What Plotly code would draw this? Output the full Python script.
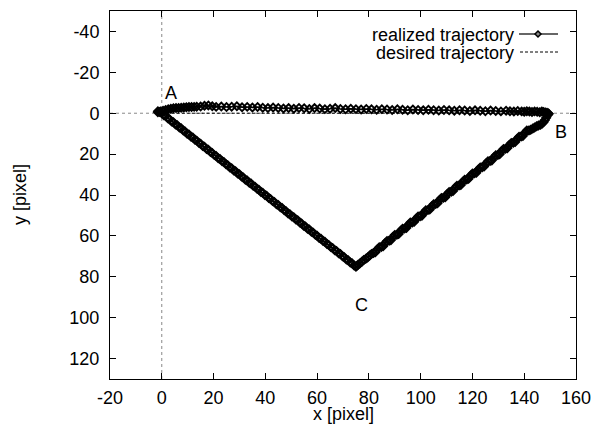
import plotly.graph_objects as go

# realized trajectory: A -> B
ab_x = [-1.5, -0.5, 0.5, 1.5, 2.5, 3.5, 4.5, 5.5, 6.5, 7.5, 8.5, 9.5, 10.5, 11.5, 12.5, 13.5, 15, 16.5, 18, 19.5,
        21, 23, 25, 27, 29, 31, 33, 35, 37, 39, 41, 43, 45, 47, 49, 51, 53, 55, 57, 59, 61, 63, 65, 67, 69, 71, 73,
        75, 77, 79, 81, 83, 85, 87, 89, 91, 93, 95, 97, 99, 101, 103, 105, 107, 109, 111, 113, 115, 117, 119, 121,
        123, 125, 127, 129, 131, 133, 134.5, 136, 137.5, 139, 140, 141, 142, 143, 144, 145, 146, 146.8, 147.5,
        148.2, 148.8, 149.2, 149.5]
ab_y = [-0.5, -0.8, -1.2, -1.6, -2.0, -2.2, -2.4, -2.5, -2.6, -2.7, -2.8, -2.9, -3.0, -3.0, -3.1, -3.2, -3.3, -3.6,
        -3.8, -3.4, -3.1, -3.3, -3.0, -3.2, -3.4, -2.9, -3.1, -2.8, -3.0, -2.7, -2.5, -2.8, -2.6, -2.3, -2.5, -2.2,
        -2.6, -2.4, -2.1, -2.5, -2.3, -2.0, -2.2, -2.5, -2.1, -1.9, -2.2, -2.0, -1.8, -2.1, -1.9, -1.7, -2.0, -1.8,
        -1.6, -1.9, -1.7, -1.5, -1.8, -1.6, -1.4, -1.7, -1.5, -1.3, -1.6, -1.4, -1.2, -1.5, -1.3, -1.1, -1.4, -1.2,
        -1.0, -1.3, -1.1, -0.9, -1.2, -1.0, -0.8, -1.1, -0.9, -0.7, -1.0, -0.8, -0.6, -0.9, -0.7, -0.5, -0.8, -0.6,
        -0.4, -0.2, 0.0, 0.3]

# realized trajectory: B -> C
bc_x = [149.0, 148.5, 148.0, 147.5, 147.0, 146.3, 145.5, 144.8, 144.0, 143.3,
        142.5, 141.8, 141.0, 140.3, 139.5, 138.8, 138.0, 137.3, 136.5, 135.8,
        135.0, 134.3, 133.5, 132.8, 132.0, 131.3, 130.5, 129.8, 129.0, 128.3,
        127.5, 126.8, 126.0, 125.3, 124.5, 123.8, 123.0, 122.3, 121.5, 120.8,
        120.0, 119.3, 118.5, 117.8, 117.0, 116.3, 115.5, 114.8, 114.0, 113.3,
        112.5, 111.8, 111.0, 110.3, 109.5, 108.8, 108.0, 107.3, 106.5, 105.8,
        105.0, 104.3, 103.5, 102.8, 102.0, 101.3, 100.5, 99.8, 99.0, 98.3,
        97.5, 96.8, 96.0, 95.3, 94.5, 93.8, 93.0, 92.3, 91.5, 90.8,
        90.0, 89.3, 88.5, 87.8, 87.0, 86.3, 85.5, 84.8, 84.0, 83.3,
        82.5, 81.8, 81.0, 80.3, 79.5, 78.8, 78.0, 77.3, 76.5, 75.8,
        75.3, 75.0]
bc_y = [1.0, 2.2, 3.3, 4.3, 5.0, 5.6, 6.0, 6.4, 7.0, 7.5,
        8.1, 8.4, 8.5, 9.5, 11.1, 11.4, 11.5, 12.5, 14.1, 14.4,
        14.5, 15.5, 17.1, 17.4, 17.5, 18.5, 20.1, 20.4, 20.5, 21.5,
        23.1, 23.4, 23.5, 24.5, 26.1, 26.4, 26.5, 27.5, 29.1, 29.4,
        29.5, 30.5, 32.1, 32.4, 32.5, 33.5, 35.1, 35.4, 35.5, 36.5,
        38.1, 38.4, 38.5, 39.5, 41.1, 41.4, 41.5, 42.5, 44.1, 44.4,
        44.5, 45.5, 47.1, 47.4, 47.5, 48.5, 50.1, 50.4, 50.5, 51.5,
        53.1, 53.4, 53.5, 54.5, 56.1, 56.4, 56.5, 57.5, 59.1, 59.4,
        59.5, 60.5, 62.1, 62.4, 62.5, 63.5, 65.1, 65.4, 65.5, 66.5,
        68.0, 68.4, 68.8, 69.6, 70.6, 71.2, 71.8, 72.6, 73.5, 74.1,
        74.7, 75.1]

# realized trajectory: C -> A
ca_x = [74.3, 73.5, 72.8, 72.0, 71.3, 70.5, 69.8, 69.0, 68.3, 67.5,
        66.8, 66.0, 65.3, 64.5, 63.8, 63.0, 62.3, 61.5, 60.8, 60.0,
        59.3, 58.5, 57.8, 57.0, 56.3, 55.5, 54.8, 54.0, 53.3, 52.5,
        51.8, 51.0, 50.3, 49.5, 48.8, 48.0, 47.3, 46.5, 45.8, 45.0,
        44.3, 43.5, 42.8, 42.0, 41.3, 40.5, 39.8, 39.0, 38.3, 37.5,
        36.8, 36.0, 35.3, 34.5, 33.8, 33.0, 32.3, 31.5, 30.8, 30.0,
        29.3, 28.5, 27.8, 27.0, 26.3, 25.5, 24.8, 24.0, 23.3, 22.5,
        21.8, 21.0, 20.3, 19.5, 18.8, 18.0, 17.3, 16.5, 15.8, 15.0,
        14.3, 13.5, 12.8, 12.0, 11.3, 10.5, 9.8, 9.0, 8.3, 7.5,
        6.8, 6.0, 5.3, 4.5, 3.8, 3.0, 2.3, 1.5, 0.8, 0.0,
        -0.8, -1.5]
ca_y = [74.5, 73.4, 73.0, 71.9, 71.5, 70.4, 70.0, 68.9, 68.5, 67.4,
        67.0, 65.9, 65.5, 64.4, 64.0, 62.9, 62.5, 61.4, 61.0, 59.9,
        59.5, 58.4, 58.0, 56.9, 56.5, 55.4, 55.0, 53.9, 53.5, 52.4,
        52.0, 50.9, 50.5, 49.4, 49.0, 47.9, 47.5, 46.4, 46.0, 44.9,
        44.5, 43.4, 43.0, 41.9, 41.5, 40.4, 40.0, 38.9, 38.5, 37.4,
        37.0, 35.9, 35.5, 34.4, 34.0, 32.9, 32.5, 31.4, 31.0, 29.9,
        29.5, 28.4, 28.0, 26.9, 26.5, 25.4, 25.0, 23.9, 23.5, 22.4,
        22.0, 20.9, 20.5, 19.4, 19.0, 17.9, 17.5, 16.4, 16.0, 14.9,
        14.5, 13.4, 13.0, 11.9, 11.5, 10.4, 10.0, 8.9, 8.5, 7.4,
        7.0, 5.9, 5.5, 4.4, 4.0, 2.9, 2.5, 1.4, 1.0, 0.0,
        -0.6, -1.0]

real_x = ab_x + bc_x + ca_x
real_y = ab_y + bc_y + ca_y

# desired trajectory (triangle A-B-C)
des_x = [0, 150, 75, 0]
des_y = [0, 0, 75, 0]

# point labels
lab_text = ["A", "B", "C"]
lab_x = [0.5, 151, 74]
lab_y = [-10, 9, 94]

x_ticks = [-20, 0, 20, 40, 60, 80, 100, 120, 140, 160]
y_ticks = [-40, -20, 0, 20, 40, 60, 80, 100, 120]

FONT = "Liberation Sans, Arial, Helvetica, sans-serif"
FS = 18

fig = go.Figure()

# zero axes (dotted)
fig.add_shape(type="line", xref="x", yref="paper", x0=0, x1=0, y0=0, y1=1,
              line=dict(color="#888888", width=1, dash="dot"), layer="below")
fig.add_shape(type="line", xref="paper", yref="y", x0=0, x1=1, y0=0, y1=0,
              line=dict(color="#888888", width=1, dash="dot"), layer="below")

fig.add_trace(go.Scatter(x=des_x, y=des_y, mode="lines", name="desired trajectory",
                         line=dict(color="black", width=1, dash="3px,2px"), showlegend=False))
fig.add_trace(go.Scatter(x=real_x, y=real_y, mode="lines+markers", name="realized trajectory",
                         line=dict(color="black", width=1.5),
                         marker=dict(symbol="diamond-open", size=6, color="black", line=dict(width=1.9)),
                         showlegend=False))

for t, x, y in zip(lab_text, lab_x, lab_y):
    fig.add_annotation(x=x, y=y, text=t, showarrow=False, xanchor="left", yanchor="middle",
                       font=dict(family=FONT, size=FS, color="black"))

# layout in pixels (plot area)
L, R, T, B = 110, 576, 11, 379
W, H = R - L, B - T
def px(x):
    return (x - L) / W
def py(y):
    return 1 - (y - T) / H

# legend (text right-aligned, sample on the right, gnuplot style)
fig.add_annotation(xref="paper", yref="paper", x=px(515), y=py(35), text="realized trajectory",
                   showarrow=False, xanchor="right", yanchor="middle", borderpad=0,
                   font=dict(family=FONT, size=FS, color="black"))
fig.add_annotation(xref="paper", yref="paper", x=px(515), y=py(53), text="desired trajectory",
                   showarrow=False, xanchor="right", yanchor="middle", borderpad=0,
                   font=dict(family=FONT, size=FS, color="black"))
fig.add_shape(type="line", xref="paper", yref="paper", x0=px(519), x1=px(558), y0=py(34), y1=py(34),
              line=dict(color="#333333", width=1.5))
cx, cy, d = 538, 34, 3
fig.add_shape(type="path", xref="paper", yref="paper",
              path=f"M {px(cx-d)},{py(cy)} L {px(cx)},{py(cy-d)} L {px(cx+d)},{py(cy)} L {px(cx)},{py(cy+d)} Z",
              line=dict(color="black", width=1.5), fillcolor="#888888")
fig.add_shape(type="line", xref="paper", yref="paper", x0=px(520), x1=px(558), y0=py(52), y1=py(52),
              line=dict(color="black", width=1, dash="3px,2px"))

# axis titles
fig.add_annotation(xref="paper", yref="paper", x=px(343), y=py(414), text="x [pixel]", showarrow=False,
                   xanchor="center", yanchor="middle", borderpad=0,
                   font=dict(family=FONT, size=FS, color="black"))
fig.add_annotation(xref="paper", yref="paper", x=px(20), y=py(195), text="y [pixel]", showarrow=False,
                   textangle=-90, xanchor="center", yanchor="middle",
                   font=dict(family=FONT, size=FS, color="black"))

axis_common = dict(showline=True, linecolor="black", linewidth=1, mirror="allticks",
                   ticks="inside", ticklen=6, tickcolor="black", tickwidth=1,
                   showgrid=False, zeroline=False,
                   tickfont=dict(family=FONT, size=FS, color="black"))

fig.update_xaxes(range=[-20, 160], tickmode="array", tickvals=x_ticks,
                 ticktext=[str(v) for v in x_ticks], ticklabelstandoff=2, **axis_common)
fig.update_yaxes(range=[130, -50], tickmode="array", tickvals=y_ticks,
                 ticktext=[str(v) for v in y_ticks], ticklabelstandoff=6, **axis_common)

fig.update_layout(width=592, height=428, margin=dict(l=L, r=592 - R, t=T, b=428 - B, autoexpand=False),
                  plot_bgcolor="white", paper_bgcolor="white", showlegend=False,
                  font=dict(family=FONT, size=FS, color="black"))

fig.write_html("out.html", config={"displayModeBar": False},
               post_script="document.body.style.margin='0';")
